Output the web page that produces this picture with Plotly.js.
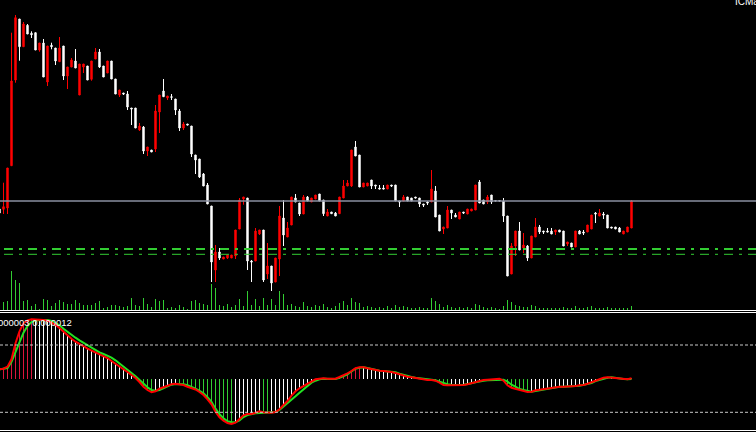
<!DOCTYPE html>
<html>
<head>
<meta charset="utf-8">
<script src="https://cdn.plot.ly/plotly-3.0.1.min.js"></script>
<style>
html,body{margin:0;padding:0;background:#000;overflow:hidden;}
#chart{width:756px;height:432px;}
</style>
</head>
<body>
<div id="chart"></div>
<script>
// ---- price data (arbitrary price units) ----
const openP = [91,90.7,92,134.3,220,281,253.3,274.7,266.7,267.3,
250,257,218,254.7,252,238.3,254,224,233,239,
205,233,234,220.7,241,248,234,227,239,221,
205,207,206,192,192,170,173,149,150,151,
188,209,202,203.3,201,189,172,176,174,145,
141,126,115,94,30,48,41,42,42,44,
71,101,102,39,39,66,70,26,34,18,
41,82,63,75,102,97,86,103,98,101,
106,100,84,88,87,86.3,102,114,114,153,
145,113,114,120,115,112,112,111,115,115,
99,99,103,102,103,102,96,98,98,109,
85,71,72,90,85,81,88,86,89,90,
118,100,98,105,99.4,99.4,99,84,26,54,
69,52,54,42,63,73,69,69,69,68,
70,69,56,57,53,69,68,68,71,87,
84,86,85,73,73,72,66,68,72];
const highP = [92,117.3,132,267.3,285,281,278,276,268.7,267.3,
257,261,254,257.3,252,263,254,233,242,251,
236,236,234,239,252,251,234,239,239,221,
210,207,209,192,192,177,174,153,150,195,
205,221,204,206,201,191,178,176,174,145,
141,127,117,94,55,52,43,45,45,70,
102,103,102,40,72,70,70,57,34,42,
94,100,78,103,106,97,105,104,102,105,
106,100,91,88,88,103,120,120,150,159,
145,117,117,120,115,115,115,115,115,115,
99,105,103,102,103,102,96,99,130,114,
85,73,94,90,87,88,88,91,91,115,
120,100,105,105,99.6,99.6,102,84,57,69,
78,67,55,64,82,75,69,72,72,70,
70,69,58,57,69,70,70,75,85,88,
91,88,85,73,73,73,69,73,100];
const lowP = [86,86,86,134.3,217.3,239.3,253.3,266,262,250,
248.3,223,214,250.7,235,238.3,220,211,233,232,
205,227,220,219.3,241,232,223,227,221,206,
203,205,190,175,172,169,146,144,148,148,
167,203.3,200,200,185,169,170,175,143,126,
122,114,96,18,18,40,41,41,42,41,
71,95.3,30,18,39,65,18,21,9,18,
24,54,63,75,98,84,86,99,98,101,
99,84,84,86.3,84,86.3,102,114,113,144,
113,113,114,111,111,111,111,111,113,99,
93,99,99,99,102,93,93,95,98,83,
69,66,72,81,83,81,86,86,89,90,
97,96,96,96,99,99,78,24,26,44,
50,47,39,42,63,66,66,68,66,65,
68,54,54,53,53,66,65,68,71,77,
84,81,72,72,71,68,66,68,72];
const closeP = [87,93.3,132,219,282.3,253.3,276,266,265.3,250,
257,223,254,253.3,239,252,224,233,240,232,
236,236,220,239,248,233,223,239,221,206,
210,206,193,191,172,174,149,153,148,189,
205,203.3,204,202.7,190,172,176,175,146,140,
123,114,96,38,48,42,43,45,45,70,
100,103,39,38,69,70,20,34,17,42,
84,65,72,103,98,86,103,99,102,105,
99,86.3,88,86.3,84,103,114,117,150,144,
113,117,117,114,114,111,111,115,114,99,
98,103,99,99,102,96,95,97,111,83,
69,73,90,87,83,88,87,91,91,115,
97,96,103,98,99,99,84,24,54,69,
50,55,42,64,73,68,68,68,66,70,
68,54,58,53,69,66,67,75,85,86,
87,85,72,72,71,68,69,73,99];
const volume = [6,8.5,9.5,39,30,27,9.5,10,4.5,6,
1,11,10,4.5,7,10,8,6,6,10,
7,5,5,5,7,9,2,3.5,5,5,
4,3.5,4,12,5,4,12,6,3.5,11,
9,10.5,2.5,3.5,2.5,5,3.5,1,9,10,
7.5,6,5,26,22,5,4,6,3,5,
11,4,19,5,11,4,12,5,11,5,
19,16,5,6,4,3,8,4,3,5,
4,6,3,2,4,7,9,5,12,8,
7,3,4,3,2,3,2,4,2,5,
3,4,3,2,2,3,2,2,12,9,
6,3,5,3,2,3,2,3,2,6,
5,3,2,3,2,1,4,10,8,5,
4,3,3,5,4,2,2,2,2,2,
2,3,2,2,4,2,2,3,4,2,
2,2,3,2,2,2,2,2,4];
// ---- MACD (units of 1e-6) ----
const macd = [10,10.6,12.6,20,36,48,56,59,60,60,
60,59.3,58.6,57,54.6,51.3,47.6,44,40.6,37.6,
35.6,33.3,30.6,28.6,27,25.3,23.3,21.3,18.3,15.3,
12.6,10,7.3,4.6,1.3,-2.7,-7.4,-10.7,-13,-12,
-9.4,-8,-6.4,-5,-4.4,-4.7,-5.7,-7.4,-8.7,-10.2,
-12.7,-15.7,-20,-25,-32.4,-38,-41.4,-43.7,-44.7,-43.4,
-39.7,-36,-34.7,-34.7,-33.4,-32,-33,-33.4,-33.4,-32.7,
-30,-25.7,-21.7,-16.4,-12,-9,-6.7,-4.4,-1.7,0,
0.6,1,0.6,0.6,0.6,2.3,4,6,8.3,11,
12,12,11,10,9,8.6,8.3,8,7.3,6.3,
5,3.6,2.6,2,1.3,0.6,-0.4,-0.7,-0.7,-1.4,
-3.4,-5.7,-6,-6,-6,-6,-5.7,-5,-4,-2.7,
-1.4,-0.7,-0.4,0,0,0.6,-1.4,-6,-8.4,-9.4,
-10.4,-11.4,-12.7,-12.4,-11,-10.4,-9.7,-9,-8.4,-7.7,
-7.4,-7.4,-7.4,-7,-6.7,-6,-5.7,-4.4,-2.7,-1,
0.6,1.6,2,1.6,1,0.3,0,0,1];
const signal = [10,10.3,11.3,17.6,27.6,37.6,46.6,53.3,57.3,59,
59.3,59.3,59.3,58.3,56.3,54,50.6,47.3,44.3,41.6,
39,36.6,34,31,29,27,25.3,23.6,21.6,19,
16,13,10,6.3,3,-0.7,-4.4,-8,-10.7,-11.4,
-10.7,-9,-7,-5.4,-4.7,-4.7,-5,-6,-7.4,-9.3,
-11.5,-14,-18,-22.5,-29.4,-35,-39,-42,-43,-43,
-41,-37.7,-35.7,-34.7,-34,-33.7,-33.4,-33.4,-33.4,-32.7,
-30.7,-27.4,-24.4,-21,-17,-13.4,-10,-6.7,-3.4,-1.4,
0,0.6,0.6,0.3,0.3,1.6,3,5,8,10.6,
11.6,12,11.3,10.3,9.6,8.6,8.3,8,7.6,7,
5.6,4.3,3.3,2.3,1.6,1,0.3,-0.4,-0.7,-1,
-2.4,-3.7,-5,-5.4,-5.7,-5.7,-5.4,-5,-4,-3,
-2,-1.4,-1,-0.7,-0.4,0,-0.4,-2.4,-5.4,-7.4,
-9.7,-10.7,-11.7,-12.4,-11.7,-11,-10,-9.4,-8.7,-8,
-7.4,-7.4,-7.4,-7.4,-6.7,-6.4,-5.7,-4.7,-3.7,-1.7,
-0.4,1,1.6,2,1.3,1,0.3,0,0.3];
const macdLevels = [34.3, -33];
const orderLevels = [51, 45.7];
const macdLabel = "0.000003 0.000012";
const brokerLabel = "ICMarkets";

const idx = closeP.map((_, i) => i);
const W = 756, H = 432;
const py = v => 1 - v / H;   // pixel row -> paper y

// histogram colours by direction relative to zero
const histColors = macd.map((m, i) => {
  const prev = i > 0 ? macd[i - 1] : m - 1;
  if (m >= 0) return m > prev ? '#dc143c' : '#ffffff';
  return m < prev ? '#32cd32' : '#ffffff';
});

const traces = [
  {type: 'bar', x: idx, y: volume, yaxis: 'y3', width: 0.25,
   marker: {color: '#32cd32', line: {width: 0}}, hoverinfo: 'skip'},
  {type: 'candlestick', x: idx, open: openP, high: highP, low: lowP, close: closeP,
   xaxis: 'x', yaxis: 'y',
   increasing: {line: {color: '#ff0000', width: 1}, fillcolor: '#ff0000'},
   decreasing: {line: {color: '#ffffff', width: 1}, fillcolor: '#ffffff'},
   whiskerwidth: 0, hoverinfo: 'skip'},
  {type: 'bar', x: idx, y: macd, yaxis: 'y2', width: 0.25,
   marker: {color: histColors, line: {width: 0}}, hoverinfo: 'skip'},
  {type: 'scatter', mode: 'lines', x: idx, y: signal, yaxis: 'y2',
   line: {color: '#22e022', width: 2}, hoverinfo: 'skip'},
  {type: 'scatter', mode: 'lines', x: idx, y: macd, yaxis: 'y2',
   line: {color: '#ff0000', width: 2}, hoverinfo: 'skip'}
];

const lastClose = closeP[closeP.length - 1];
const shapes = [
  // bid line
  {type: 'line', xref: 'paper', yref: 'y', x0: 0, x1: 1, y0: lastClose, y1: lastClose,
   line: {color: '#8a8fa0', width: 1.3}},
  // order levels
  {type: 'line', xref: 'paper', yref: 'y', x0: 4 / W, x1: 1, y0: orderLevels[0], y1: orderLevels[0],
   line: {color: '#32cd32', width: 2, dash: '9px,6px,3px,6px'}},
  {type: 'line', xref: 'paper', yref: 'y', x0: 4 / W, x1: 1, y0: orderLevels[1], y1: orderLevels[1],
   line: {color: '#32cd32', width: 1, dash: '9px,6px,3px,6px'}},
  // macd levels
  {type: 'line', xref: 'paper', yref: 'y2', x0: 0, x1: 1, y0: macdLevels[0], y1: macdLevels[0],
   line: {color: '#c8c8c8', width: 1, dash: '3px,2px'}},
  {type: 'line', xref: 'paper', yref: 'y2', x0: 0, x1: 1, y0: macdLevels[1], y1: macdLevels[1],
   line: {color: '#c8c8c8', width: 1, dash: '3px,2px'}},
  // panel separators
  {type: 'line', xref: 'paper', yref: 'paper', x0: 0, x1: 1, y0: py(310.5), y1: py(310.5),
   line: {color: '#ffffff', width: 1}},
  {type: 'line', xref: 'paper', yref: 'paper', x0: 0, x1: 1, y0: py(312.5), y1: py(312.5),
   line: {color: '#ffffff', width: 1}},
  {type: 'line', xref: 'paper', yref: 'paper', x0: 0, x1: 1, y0: py(430.5), y1: py(430.5),
   line: {color: '#ffffff', width: 1}}
];

const noAx = {showgrid: false, zeroline: false, showticklabels: false, ticks: '', showline: false, fixedrange: true};

const layout = {
  width: W, height: H,
  margin: {l: 0, r: 0, t: 0, b: 0, pad: 0},
  paper_bgcolor: '#000', plot_bgcolor: '#000',
  showlegend: false, bargap: 0, boxgap: 0.5,
  font: {family: 'Liberation Sans, Arial, sans-serif', color: '#fff'},
  xaxis: Object.assign({}, noAx, {range: [0.125, 189.125], rangeslider: {visible: false}}),
  yaxis: Object.assign({}, noAx, {domain: [py(310), 1], range: [-10, 300]}),
  yaxis3: Object.assign({}, noAx, {domain: [py(310), 1], range: [0, 310], overlaying: 'y'}),
  yaxis2: Object.assign({}, noAx, {domain: [py(430), py(314)], range: [-50.7, 65.3]}),
  shapes: shapes,
  annotations: [
    {xref: 'paper', yref: 'paper', x: 0, y: py(322.7), xanchor: 'left', yanchor: 'middle',
     xshift: -12, text: macdLabel, showarrow: false,
     font: {size: 9.5, color: '#ffffff', family: 'Liberation Sans, Arial, sans-serif'}},
    {xref: 'paper', yref: 'paper', x: 733 / W, y: py(1.5), xanchor: 'left', yanchor: 'middle',
     text: brokerLabel, showarrow: false,
     font: {size: 10, color: '#ffffff', family: 'Liberation Sans, Arial, sans-serif'}}
  ]
};

Plotly.newPlot('chart', traces, layout, {staticPlot: true, displayModeBar: false});
</script>
</body>
</html>
